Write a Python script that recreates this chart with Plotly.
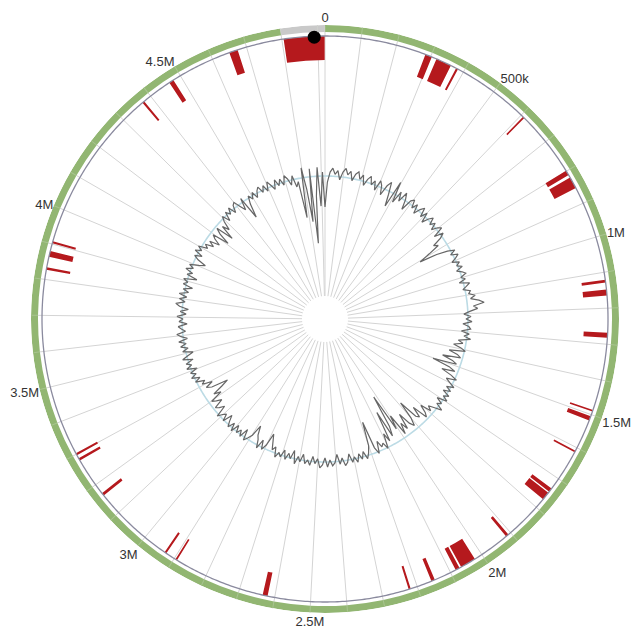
import plotly.graph_objects as go

# Genome length (kb) and axis labels
GENOME_KB = 4920
GRID_STEP_KB = 100
LABEL_STEP_KB = 500
LABELS = ["0", "500k", "1M", "1.5M", "2M", "2.5M", "3M", "3.5M", "4M", "4.5M"]

# Highlighted region on the outer ring (kb)
RING_GREY_START_KB = 4800

# Marker position (kb)
MARKER_KB = 4890

# Feature track: start / end (kb)
FEAT_START = [4805, 4650, 4464, 4371, 284, 317, 377, 607, 798, 820,
              1121, 1148, 1268, 1486, 1505, 1609, 1733, 1748, 1908, 2023,
              2072, 2148, 2219, 2620, 2891, 2926, 3163, 3280, 3297, 3827,
              3864, 3902]
FEAT_END = [4919, 4674, 4477, 4377, 303, 361, 383, 612, 812, 853,
            1129, 1165, 1282, 1491, 1517, 1614, 1744, 1771, 1916, 2067,
            2084, 2158, 2225, 2634, 2896, 2932, 3171, 3287, 3303, 3834,
            3880, 3908]

# GC deviation from the mean, one value per window (window = GENOME_KB / len)
GC_DEV = [
    -31, -6, 4, 8, 2, 6, -3, 5, 9, 3,
    7, -2, 5, 8, 1, 6, -4, 3, 7, -1,
    4, -5, 6, 2, -7, 4, 9, -3, -15, 13,
    -8, 5, -4, 7, 1, -9, 3, 6, -2, 4,
    -5, 2, 6, -3, 4, -6, 1, 5, -2, 3,
    -4, 2, 5, -6, 3, -2, -12, -8, -20, -32,
    -14, -3, 4, -2, 5, 1, -4, 3, -1, 4,
    -3, 2, 5, -1, 3, -4, 6, 2, -2, 5,
    3, 9, 4, 12, 17, 6, 10, 2, -4, 3,
    -2, 4, -5, 1, 3, -6, 2, -3, 4, -8,
    -3, -12, -4, 1, -15, -6, -2, -20, -9, -4,
    -28, -10, -3, -16, -5, 2, -8, -3, 3, -4,
    2, -5, 3, -2, 4, -6, 1, -3, 5, -2,
    -8, -3, -14, -6, -2, -18, -7, -10, -30, -12,
    -4, -9, -22, -6, -14, -3, -26, -12, -51, -18,
    -8, -36, -5, -14, 1, -6, -3, -10, 2, -5,
    -33, -9, -2, 3, -5, 2, -4, 4, -2, 3,
    -6, 2, 5, -3, 3, -7, 1, 4, -2, 5,
    -4, 3, 6, -3, 2, -5, 4, -1, 3, -6,
    2, -3, 5, -8, 1, -4, 3, -6, 2, -2,
    4, -6, -2, -10, -17, -4, 2, -7, 3, -5,
    -9, -18, -6, -1, 3, -8, 2, -4, 1, -6,
    3, -5, 2, -3, -9, 1, -6, -3, 2, -10,
    -5, -2, -12, -7, -3, -16, -9, -20, -28, -11,
    -6, -14, -4, -8, 1, -5, 3, -3, 2, -6,
    4, -2, 3, -5, 5, -1, -7, 3, -3, 4,
    -2, 5, -4, 2, 6, -3, 1, 4, -5, 3,
    -1, 5, -4, 2, -6, 3, 7, -2, 4, -3,
    5, -4, 2, -7, 3, -1, 4, -9, 2, -3,
    5, -2, 3, -6, -12, -3, 2, -5, 4, -2,
    3, -6, -2, -10, -4, -14, -7, -3, -20, -8,
    -2, -20, -5, -12, -3, 2, -6, 3, -2, 4,
    -4, 3, 5, -2, -8, 4, -20, -6, 2, -3,
    3, -4, 2, 5, -2, 4, -3, 6, 1, -4,
    5, -2, 4, -3, 6, 2, -5, 4, -8, -3,
    -40, 10, -12, -45, 8, -67, -20, 9, -30, 4,
]

# Radii in px (radial range is set so 1 unit = 1 px)
R_OUT = 294
RING_W = 7
R_LINE = 283
FEAT_DEPTH = 24
GC_BASE = 143
HOLE = 23


def deg(kb):
    return kb / GENOME_KB * 360.0


fig = go.Figure()

# Outer ring: green backbone plus grey end segment
fig.add_trace(go.Barpolar(
    theta=[deg(RING_GREY_START_KB) / 2, (deg(RING_GREY_START_KB) + 360) / 2],
    width=[deg(RING_GREY_START_KB), 360 - deg(RING_GREY_START_KB)],
    r=[RING_W, RING_W], base=[R_OUT - RING_W, R_OUT - RING_W],
    marker=dict(color=["#92b672", "#c9c9c9"], line=dict(width=0)),
    hoverinfo="skip", showlegend=False,
))

# Feature bars hanging inward from the backbone line
centres = [deg((s + e) / 2) for s, e in zip(FEAT_START, FEAT_END)]
widths = [deg(e - s) for s, e in zip(FEAT_START, FEAT_END)]
fig.add_trace(go.Barpolar(
    theta=centres, width=widths,
    r=[FEAT_DEPTH] * len(centres), base=[R_LINE - FEAT_DEPTH] * len(centres),
    marker=dict(color="#b5191d", line=dict(width=0)),
    showlegend=False,
))

# Backbone circle
circ = [i * 0.5 for i in range(721)]
fig.add_trace(go.Scatterpolar(
    theta=circ, r=[R_LINE] * len(circ), mode="lines",
    line=dict(color="#8a8a9e", width=1.3), hoverinfo="skip", showlegend=False,
))

# GC baseline and deviation curve
fig.add_trace(go.Scatterpolar(
    theta=circ, r=[GC_BASE] * len(circ), mode="lines",
    line=dict(color="#bcdbe5", width=1.6), hoverinfo="skip", showlegend=False,
))
n = len(GC_DEV)
gc_theta = [deg(i * GENOME_KB / n) for i in range(n)] + [360]
gc_r = [GC_BASE + v for v in GC_DEV] + [GC_BASE + GC_DEV[0]]
fig.add_trace(go.Scatterpolar(
    theta=gc_theta, r=gc_r, mode="lines",
    line=dict(color="#666666", width=1.2), showlegend=False,
))

# Position marker
fig.add_trace(go.Scatterpolar(
    theta=[deg(MARKER_KB)], r=[R_LINE - 1], mode="markers",
    marker=dict(color="black", size=13), showlegend=False,
))

tick_kb = list(range(0, GENOME_KB, GRID_STEP_KB))
tick_text = [LABELS[k // LABEL_STEP_KB] if k % LABEL_STEP_KB == 0 else "" for k in tick_kb]

W, H = 631, 634
cx, cy = 325, 319
fig.update_layout(
    width=W, height=H,
    margin=dict(l=0, r=0, t=0, b=0),
    paper_bgcolor="white",
    showlegend=False,
    polar=dict(
        domain=dict(x=[(cx - R_OUT) / W, (cx + R_OUT) / W],
                    y=[(H - cy - R_OUT) / H, (H - cy + R_OUT) / H]),
        bgcolor="white",
        hole=HOLE / R_OUT,
        barmode="overlay",
        radialaxis=dict(range=[HOLE, R_OUT], visible=False),
        angularaxis=dict(
            rotation=90, direction="clockwise",
            tickmode="array", tickvals=[deg(k) for k in tick_kb], ticktext=tick_text,
            showgrid=True, gridcolor="#d4d4d4", gridwidth=1,
            showline=False,
            ticks="inside", ticklen=RING_W, tickwidth=1,
            tickcolor="rgba(220,228,212,0.3)",
            tickfont=dict(family="Arial, Liberation Sans, sans-serif", size=13, color="#333"),
        ),
    ),
)

fig.write_html("out.html")
